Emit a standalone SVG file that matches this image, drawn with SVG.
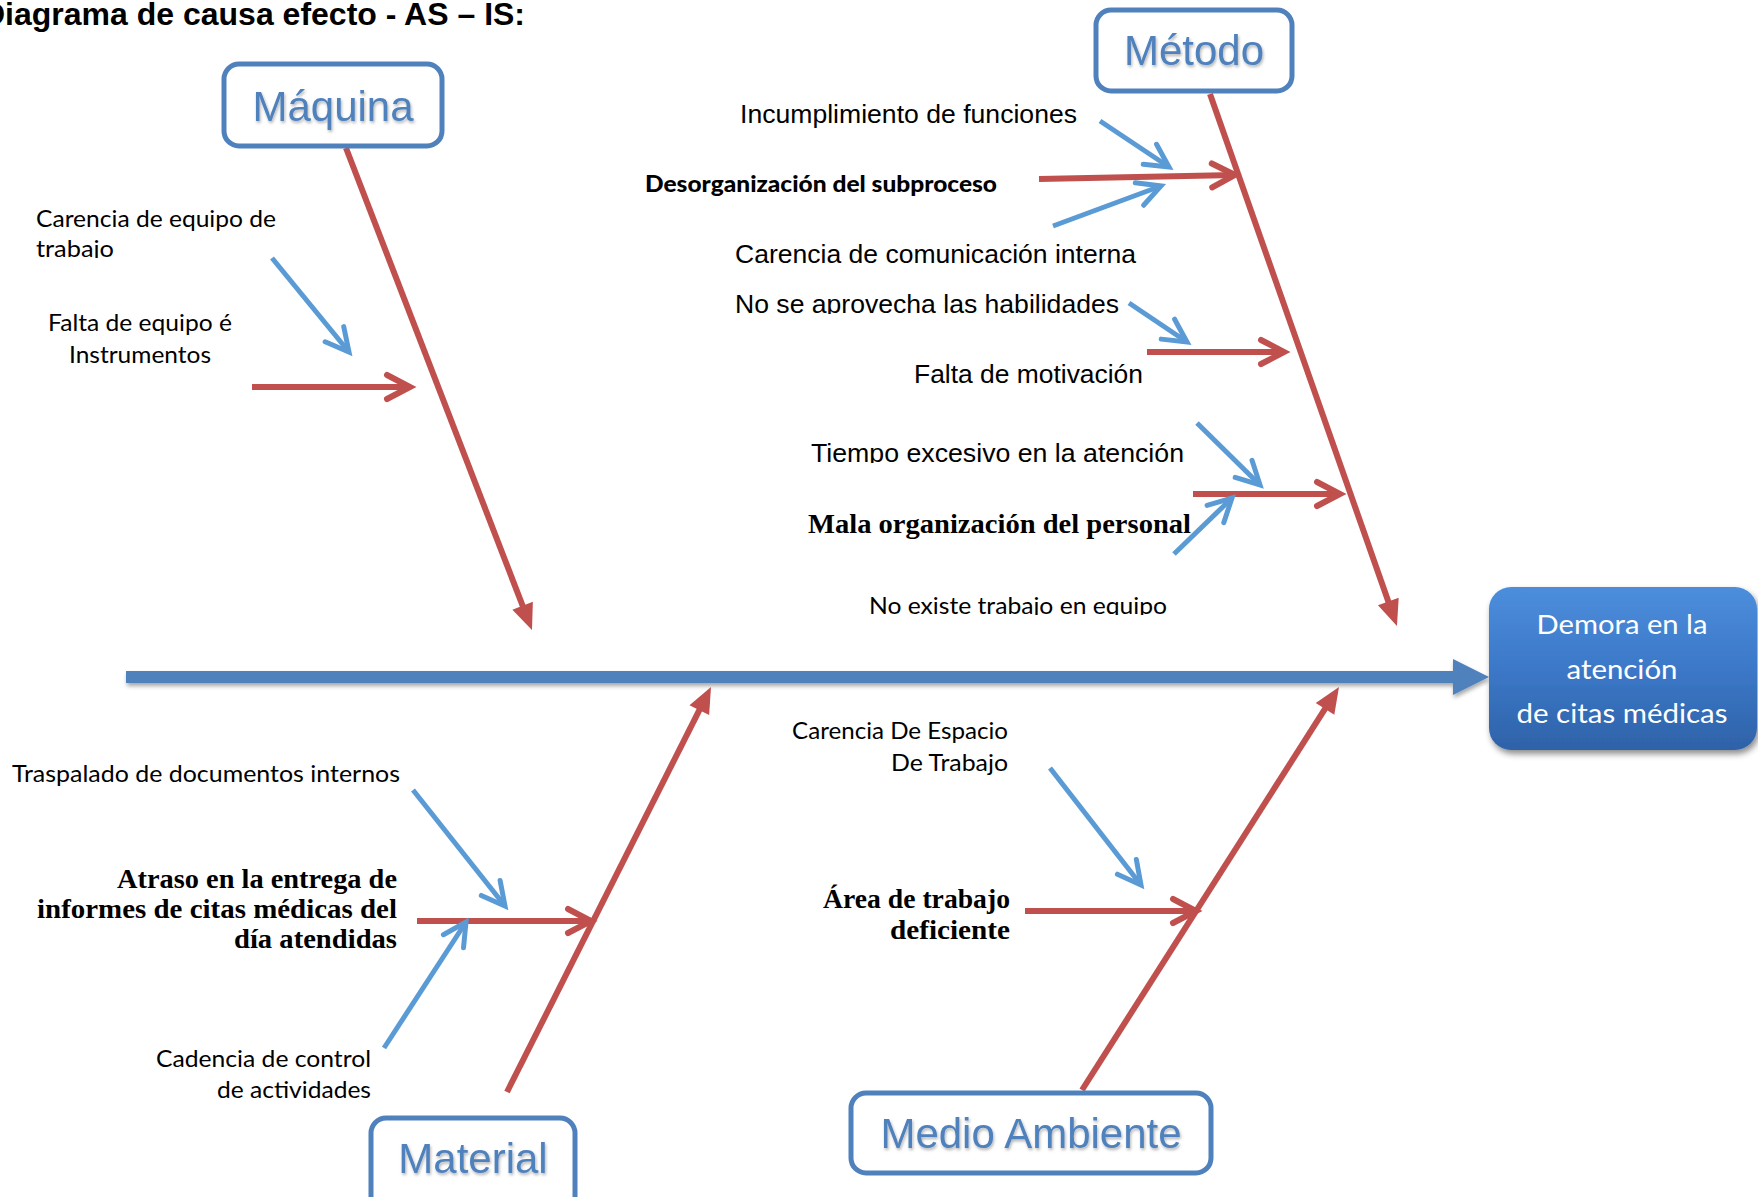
<svg xmlns="http://www.w3.org/2000/svg" width="1758" height="1197" viewBox="0 0 1758 1197">
  <style>
    .ar { font-family: "Liberation Sans", Arial, sans-serif; font-size: 26.5px; fill: #000; }
    .cal { font-family: Lato, "Noto Sans", sans-serif; font-size: 24px; fill: #000; }
    .calb { font-family: Lato, "Noto Sans", sans-serif; font-size: 22.5px; font-weight: 900; fill: #000; }
    .serb { font-family: "Liberation Serif", "Times New Roman", serif; font-size: 27.5px; font-weight: bold; fill: #000; }
    .cat { font-family: "Liberation Sans", Arial, sans-serif; font-size: 42px; fill: #4F81BD; text-anchor: middle; }
    .catbox { fill: #fff; stroke: #4F81BD; stroke-width: 5; }
    .bone { stroke: #C0504D; stroke-width: 6; fill: none; marker-end: url(#headSolid); }
    .sub-red { stroke: #C0504D; stroke-width: 6; fill: none; stroke-linecap: butt; marker-end: url(#headRed); }
    .sub-blue { stroke: #5B9BD5; stroke-width: 5; fill: none; stroke-linecap: butt; marker-end: url(#headBlue); }
    .eff { font-family: Lato, "Noto Sans", sans-serif; font-size: 26.5px; fill: #fff; text-anchor: middle; }
  </style>
  <defs>
    <marker id="headSolid" markerUnits="userSpaceOnUse" viewBox="-20 -13 30 26" refX="0" refY="0" markerWidth="30" markerHeight="26" orient="auto" overflow="visible">
      <path d="M -18 -11 L 8 0 L -18 11 Z" fill="#C0504D"/>
    </marker>
    <marker id="headRed" markerUnits="userSpaceOnUse" viewBox="-28 -16 32 32" refX="0" refY="0" markerWidth="32" markerHeight="32" orient="auto" overflow="visible">
      <path d="M -23 -12 L 0 0 L -23 12" fill="none" stroke="#C0504D" stroke-width="6" stroke-linejoin="miter" stroke-linecap="round"/>
    </marker>
    <marker id="headBlue" markerUnits="userSpaceOnUse" viewBox="-28 -16 32 32" refX="0" refY="0" markerWidth="32" markerHeight="32" orient="auto" overflow="visible">
      <path d="M -23 -12 L 0 0 L -23 12" fill="none" stroke="#5B9BD5" stroke-width="5" stroke-linejoin="miter" stroke-linecap="round"/>
    </marker>
    <linearGradient id="effFill" x1="0" y1="0" x2="0" y2="1">
      <stop offset="0" stop-color="#4C8EDC"/>
      <stop offset="0.5" stop-color="#3C78C8"/>
      <stop offset="1" stop-color="#2E62A8"/>
    </linearGradient>
    <filter id="softShadow" x="-5%" y="-20%" width="110%" height="160%">
      <feDropShadow dx="1" dy="3" stdDeviation="2" flood-color="#000" flood-opacity="0.35"/>
    </filter>
    <filter id="boxShadow" x="-10%" y="-10%" width="125%" height="130%">
      <feDropShadow dx="2" dy="4" stdDeviation="3" flood-color="#000" flood-opacity="0.45"/>
    </filter>
    <filter id="textShadow" x="-10%" y="-20%" width="120%" height="150%">
      <feDropShadow dx="1" dy="2" stdDeviation="1.5" flood-color="#000" flood-opacity="0.3"/>
    </filter>
    <clipPath id="clipTrabajo"><rect x="0" y="235" width="300" height="23"/></clipPath>
    <clipPath id="clipHabil"><rect x="720" y="285" width="420" height="29"/></clipPath>
    <clipPath id="clipTiempo"><rect x="800" y="435" width="400" height="28"/></clipPath>
    <clipPath id="clipEquipo"><rect x="860" y="590" width="320" height="25"/></clipPath>
  </defs>

  <!-- heading -->
  <g id="title">
    <text x="-18" y="25" font-family="Liberation Sans, Arial, sans-serif" font-size="32" font-weight="bold">Diagrama de causa efecto - AS – IS:</text>
  </g>

  <!-- connectors: spine, category bones and cause arrows -->
  <g id="connectors">
    <g id="spine" filter="url(#softShadow)">
      <line x1="126" y1="677" x2="1456" y2="677" stroke="#4F81BD" stroke-width="12"/>
      <polygon points="1453,659 1489,677 1453,695" fill="#4F81BD"/>
    </g>
    <line class="bone" x1="346" y1="148" x2="529.1" y2="622.5"/>
    <line class="bone" x1="1210" y1="94" x2="1394.3" y2="618.5"/>
    <line class="bone" x1="507" y1="1092" x2="707.4" y2="694.1"/>
    <line class="bone" x1="1082" y1="1090" x2="1334.7" y2="693.7"/>

    <line class="sub-red" x1="252" y1="387" x2="410" y2="387"/>
    <line class="sub-red" x1="1039" y1="179" x2="1235" y2="175"/>
    <line class="sub-red" x1="1147" y1="352" x2="1284" y2="352"/>
    <line class="sub-red" x1="1193" y1="494" x2="1340" y2="494"/>
    <line class="sub-red" x1="417" y1="921" x2="591" y2="921"/>
    <line class="sub-red" x1="1025" y1="911" x2="1196" y2="911"/>

    <line class="sub-blue" x1="272" y1="258" x2="349" y2="352"/>
    <line class="sub-blue" x1="1100" y1="121" x2="1169" y2="167"/>
    <line class="sub-blue" x1="1053" y1="226" x2="1161" y2="186"/>
    <line class="sub-blue" x1="1129" y1="303" x2="1187" y2="342"/>
    <line class="sub-blue" x1="1197" y1="423" x2="1260" y2="485"/>
    <line class="sub-blue" x1="1174" y1="554" x2="1232" y2="498"/>
    <line class="sub-blue" x1="413" y1="790" x2="505" y2="906"/>
    <line class="sub-blue" x1="384" y1="1048" x2="466" y2="922"/>
    <line class="sub-blue" x1="1050" y1="768" x2="1141" y2="885"/>
  </g>

  <!-- category boxes -->
  <g id="cat-maquina">
    <rect class="catbox" x="224" y="64" width="218" height="82" rx="15"/>
    <text class="cat" x="333" y="121" filter="url(#textShadow)">Máquina</text>
  </g>
  <g id="cat-metodo">
    <rect class="catbox" x="1096" y="10" width="196" height="81" rx="15"/>
    <text class="cat" x="1194" y="65" filter="url(#textShadow)">Método</text>
  </g>
  <g id="cat-material">
    <rect class="catbox" x="371" y="1118" width="204" height="100" rx="15"/>
    <text class="cat" x="473" y="1173" filter="url(#textShadow)">Material</text>
  </g>
  <g id="cat-medio">
    <rect class="catbox" x="851" y="1093" width="360" height="80" rx="15"/>
    <text class="cat" x="1031" y="1148" filter="url(#textShadow)">Medio Ambiente</text>
  </g>

  <!-- effect -->
  <g id="effect">
    <rect x="1489" y="587" width="268" height="163" rx="22" fill="url(#effFill)" filter="url(#boxShadow)"/>
    <text class="eff" x="1622" y="634" textLength="171" lengthAdjust="spacingAndGlyphs">Demora en la</text>
    <text class="eff" x="1622" y="679" textLength="111" lengthAdjust="spacingAndGlyphs">atención</text>
    <text class="eff" x="1622" y="723" textLength="211" lengthAdjust="spacingAndGlyphs">de citas médicas</text>
  </g>

  <!-- causes: Máquina -->
  <g id="cause-carencia-equipo">
    <text class="cal" x="36" y="227" textLength="240" lengthAdjust="spacingAndGlyphs">Carencia de equipo de</text>
    <text class="cal" x="36" y="257" textLength="78" lengthAdjust="spacingAndGlyphs" clip-path="url(#clipTrabajo)">trabajo</text>
  </g>
  <g id="cause-falta-equipo">
    <text class="cal" x="140" y="331" text-anchor="middle" textLength="184" lengthAdjust="spacingAndGlyphs">Falta de equipo é</text>
    <text class="cal" x="140" y="363" text-anchor="middle" textLength="142" lengthAdjust="spacingAndGlyphs">Instrumentos</text>
  </g>

  <!-- causes: Método -->
  <g id="cause-incumplimiento">
    <text class="ar" x="740" y="123" textLength="337" lengthAdjust="spacingAndGlyphs">Incumplimiento de funciones</text>
  </g>
  <g id="cause-desorganizacion">
    <text class="calb" x="645" y="192" textLength="352" lengthAdjust="spacingAndGlyphs">Desorganización del subproceso</text>
  </g>
  <g id="cause-comunicacion">
    <text class="ar" x="735" y="263" textLength="401" lengthAdjust="spacingAndGlyphs">Carencia de comunicación interna</text>
  </g>
  <g id="cause-habilidades">
    <text class="ar" x="735" y="313" textLength="384" lengthAdjust="spacingAndGlyphs" clip-path="url(#clipHabil)">No se aprovecha las habilidades</text>
  </g>
  <g id="cause-motivacion">
    <text class="ar" x="914" y="383" textLength="229" lengthAdjust="spacingAndGlyphs">Falta de motivación</text>
  </g>
  <g id="cause-tiempo">
    <text class="ar" x="811" y="462" textLength="373" lengthAdjust="spacingAndGlyphs" clip-path="url(#clipTiempo)">Tiempo excesivo en la atención</text>
  </g>
  <g id="cause-mala-organizacion">
    <text class="serb" x="808" y="533" font-size="26.5" textLength="383" lengthAdjust="spacingAndGlyphs">Mala organización del personal</text>
  </g>
  <g id="cause-trabajo-equipo">
    <text class="cal" x="869" y="614" textLength="298" lengthAdjust="spacingAndGlyphs" clip-path="url(#clipEquipo)">No existe trabajo en equipo</text>
  </g>

  <!-- causes: Material -->
  <g id="cause-traspalado">
    <text class="cal" x="12" y="782" textLength="388" lengthAdjust="spacingAndGlyphs">Traspalado de documentos internos</text>
  </g>
  <g id="cause-atraso">
    <text class="serb" x="397" y="888" text-anchor="end" textLength="280" lengthAdjust="spacingAndGlyphs">Atraso en la entrega de</text>
    <text class="serb" x="397" y="918" text-anchor="end" textLength="360" lengthAdjust="spacingAndGlyphs">informes de citas médicas del</text>
    <text class="serb" x="397" y="948" text-anchor="end" textLength="163" lengthAdjust="spacingAndGlyphs">día atendidas</text>
  </g>
  <g id="cause-cadencia">
    <text class="cal" x="371" y="1067" text-anchor="end" textLength="215" lengthAdjust="spacingAndGlyphs">Cadencia de control</text>
    <text class="cal" x="371" y="1098" text-anchor="end" textLength="154" lengthAdjust="spacingAndGlyphs">de actividades</text>
  </g>

  <!-- causes: Medio Ambiente -->
  <g id="cause-espacio">
    <text class="cal" x="1008" y="739" text-anchor="end" textLength="216" lengthAdjust="spacingAndGlyphs">Carencia De Espacio</text>
    <text class="cal" x="1008" y="771" text-anchor="end" textLength="117" lengthAdjust="spacingAndGlyphs">De Trabajo</text>
  </g>
  <g id="cause-area">
    <text class="serb" x="1010" y="908" text-anchor="end" textLength="187" lengthAdjust="spacingAndGlyphs">Área de trabajo</text>
    <text class="serb" x="1010" y="939" text-anchor="end" textLength="120" lengthAdjust="spacingAndGlyphs">deficiente</text>
  </g>
</svg>
